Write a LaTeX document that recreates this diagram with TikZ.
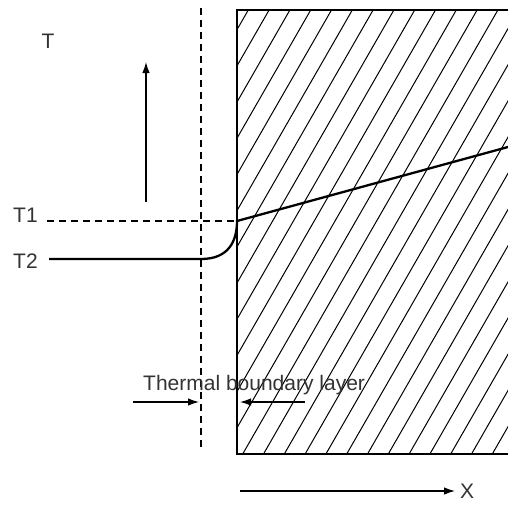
\documentclass[tikz,border=0pt]{standalone}
\usepackage{fontspec}
\setmainfont{Liberation Sans}
\usetikzlibrary{arrows.meta,calc,positioning}

\begin{document}
\begin{tikzpicture}[x=1pt,y=-1pt,>={Latex[length=11pt,width=7.5pt]}]
  \tikzset{
    lbl/.style={text=black!80,font=\fontsize{21}{24}\selectfont,inner sep=0pt},
    bldash/.style={line width=1.1pt,dash pattern=on 7pt off 5pt},
    arr/.style={->,line width=1.2pt}
  }
  \useasboundingbox (0,0) rectangle (508,504);

  % Wall with hatching
  \coordinate (WT) at (237,10);
  \coordinate (WB) at (237,454);
  \coordinate (WTR) at (510,10);
  \coordinate (WBR) at (510,454);
  \begin{scope}
    \clip (WT) rectangle (WBR);
    \foreach \k in {-1,...,25}
      \draw[line width=1pt] ({248.3+20.8*\k},10) -- ({248.3+20.8*\k-255.2},454);
  \end{scope}
  \draw[line width=2.6pt] (WTR) -- (WT) -- (WB) -- (WBR);

  % Edge of the boundary layer
  \coordinate (BLtop) at (201,8);
  \coordinate (BLbot) at (201,449);
  \draw[bldash] (BLtop) -- (BLbot);

  % Temperature axis
  \node[lbl] (T) at (48,41) {T};
  \coordinate (up0) at (146,202);
  \coordinate (up1) at (146,62);
  \draw[arr] (up0) -- (up1);

  % Temperatures at the wall and in the fluid
  \node[lbl,anchor=base west] (T1) at (13,222) {T1};
  \node[lbl,anchor=base west] (T2) at (13,268) {T2};
  \coordinate (S) at (237,221);
  \coordinate (d1) at (47,221);
  \draw[bldash] (d1) -- (S);

  % Temperature profile
  \coordinate (f0) at (49,259);
  \coordinate (f1) at (201,259);
  \coordinate (end) at (508,147);
  \draw[line width=2.3pt] (f0) -- (f1) .. controls (228,259) and (237,242) .. (S) -- (end);

  % Thermal boundary layer
  \node[lbl,anchor=base west] (tbl) at (143,390) {Thermal boundary layer};
  \coordinate (a0) at (133,402);
  \coordinate (a1) at (199,402);
  \coordinate (b0) at (305,402);
  \coordinate (b1) at (240,402);
  \draw[arr] (a0) -- (a1);
  \draw[arr] (b0) -- (b1);

  % Distance from the wall
  \coordinate (x0) at (240,491);
  \coordinate (x1) at (455,491);
  \draw[arr] (x0) -- (x1);
  \node[lbl,anchor=west] (X) at (460,491) {X};
\end{tikzpicture}
\end{document}
